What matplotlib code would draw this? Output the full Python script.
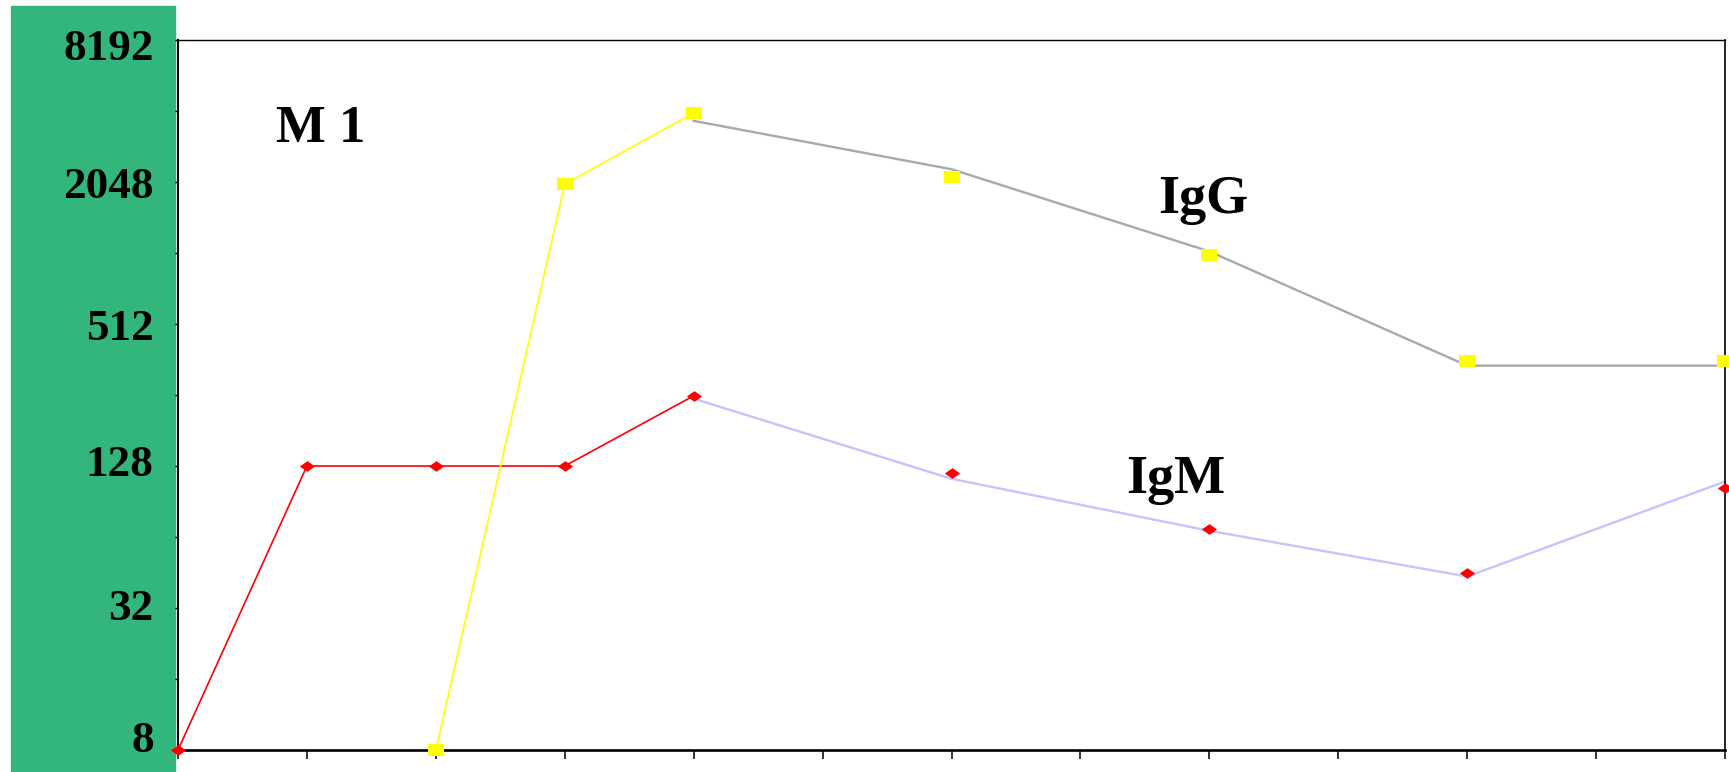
import matplotlib
matplotlib.use("Agg")
import matplotlib.pyplot as plt
from matplotlib.patches import Rectangle
from matplotlib.ticker import FixedLocator, FuncFormatter, NullFormatter
from matplotlib.transforms import ScaledTranslation

# Data (titres)
igm_days = [0, 1, 2, 3, 4, 6, 8, 10, 12]
igm_titre = [8, 128, 128, 128, 254, 119, 69, 45, 103]
igm_trend_days = [4, 6, 8, 10, 12]
igm_trend = [247, 113, 68, 43.5, 110]

igg_days = [2, 3, 4, 6, 8, 10, 12]
igg_titre = [8, 2005, 4015, 2150, 1004, 358, 358]
igg_trend_days = [4, 6, 8, 10, 12]
igg_trend = [3720, 2320, 1040, 341, 341]

y_ticks = [8, 16, 32, 64, 128, 256, 512, 1024, 2048, 4096, 8192]
y_labels = [8, 32, 128, 512, 2048, 8192]

W, H = 1729, 772
serif = ["Liberation Serif", "DejaVu Serif"]

fig = plt.figure(figsize=(W / 100, H / 100), dpi=100)
fig.patch.set_facecolor("white")

# green band behind the y labels (below the axes so labels stay on top)
fig.patches.append(Rectangle((11 / W, 0), (175 - 11) / W, (H - 6) / H,
                             transform=fig.transFigure, color="#33b67c", zorder=-1))

ax = fig.add_axes([178 / W, (H - 750) / H, (1725 - 178) / W, (750 - 40) / H])
ax.set_facecolor("white")

ax.set_yscale("log", base=2)
ax.set_ylim(8, 8192)
ax.set_xlim(0, 12)

diamond = [(-1, 0), (0, 0.7), (1, 0), (0, -0.7), (-1, 0)]
rect = [(-1, -0.7), (1, -0.7), (1, 0.7), (-1, 0.7), (-1, -0.7)]

# trend lines
ax.plot(igm_trend_days, igm_trend, color="#c4c4ff", lw=1.7, zorder=2, clip_on=False)
ax.plot(igg_trend_days, igg_trend, color="#a9a9a9", lw=1.7, zorder=2, clip_on=False)

# early part joined, later part markers only
ax.plot(igm_days[:5], igm_titre[:5], color="#ff0000", lw=1.2, zorder=3, clip_on=False)
ax.plot(igg_days[:3], igg_titre[:3], color="#ffff00", lw=1.2, zorder=3, clip_on=False)
ax.plot(igm_days, igm_titre, ls="none", marker=diamond, ms=11, mfc="#ff0000",
        mec="#ff0000", mew=0, zorder=4, clip_on=False)
ax.plot(igg_days, igg_titre, ls="none", marker=rect, ms=12, mfc="#ffff00",
        mec="#ffff00", mew=0, zorder=4, clip_on=False)

# axes styling
ax.yaxis.set_major_locator(FixedLocator(y_ticks))
ax.yaxis.set_minor_locator(FixedLocator([]))
ax.yaxis.set_major_formatter(FuncFormatter(
    lambda v, p: f"{int(round(v))}" if int(round(v)) in y_labels else ""))
ax.set_xticks(range(13))
ax.xaxis.set_major_formatter(NullFormatter())
ax.tick_params(axis="y", direction="out", length=2.5, width=1.0, pad=15,
               labelsize=32.5, colors="black")
ax.tick_params(axis="x", direction="out", length=6.5, width=1.1)

# small vertical nudges of some labels, as in the original
nudge = {8: 14, 32: 3, 128: 6, 8192: -5}
for tick, v in zip(ax.yaxis.get_major_ticks(), y_ticks):
    lab = tick.label1
    lab.set_fontfamily(serif)
    lab.set_fontweight("bold")
    if v in nudge:
        lab.set_transform(lab.get_transform() +
                          ScaledTranslation(0, nudge[v] / 100, fig.dpi_scale_trans))

ax.spines["left"].set_linewidth(1.5)
ax.spines["bottom"].set_linewidth(1.9)
ax.spines["top"].set_linewidth(1.0)
ax.spines["right"].set_linewidth(1.2)

# labels
txt = dict(family=serif, weight="bold", color="black", va="baseline", ha="left")
fig.text(276 / W, 1 - 142 / H, "M 1", fontsize=38, **txt)
fig.text(1158 / W, 1 - 213 / H, "IgG", fontsize=39, **txt)
fig.text(1126 / W, 1 - 493 / H, "IgM", fontsize=39, **txt)

fig.savefig("out.png", dpi=100)
